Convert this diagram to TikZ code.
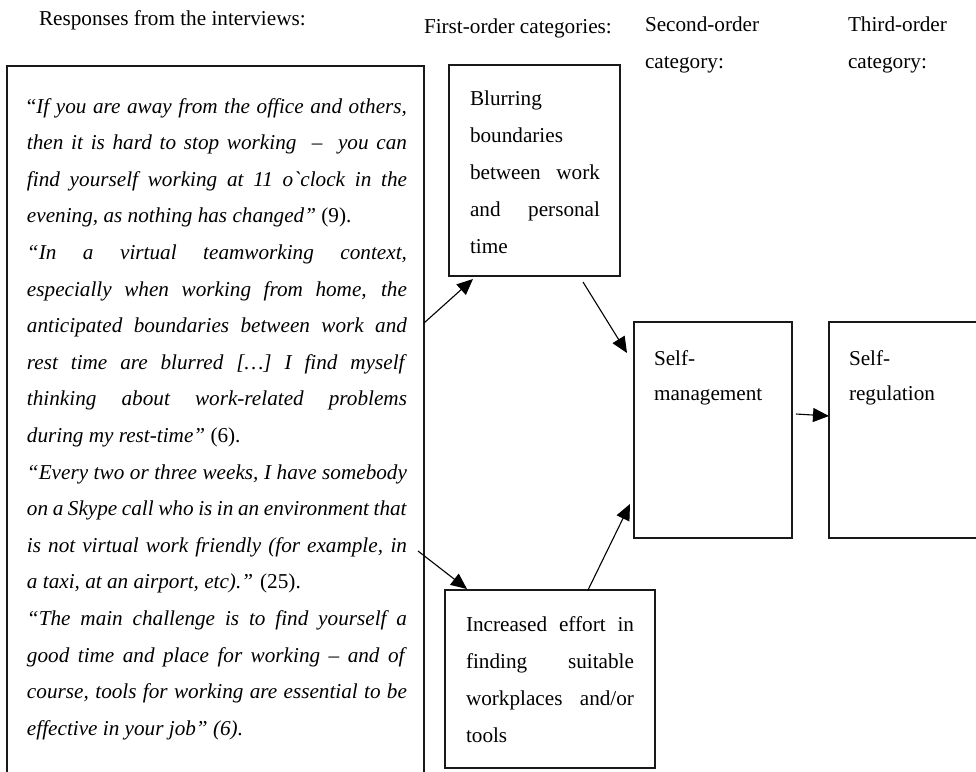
\documentclass[tikz,border=0pt]{standalone}
\usepackage{fontspec}
\setmainfont{Liberation Serif}[Ligatures=TeXOff]
\usetikzlibrary{arrows.meta,calc}
\newcommand\myjust[1]{\hbox to\hsize{#1}}
\newcommand\myleft[1]{\hbox to\hsize{#1\hfil}}
\begin{document}
\begin{tikzpicture}[x=1pt,y=-1pt,
  box/.style={draw=black!90, line width=1.3pt, inner sep=0pt, outer sep=0pt, anchor=north west},
  conn/.style={draw=black, line width=1.1pt, -{Triangle[length=16pt,width=14pt]}},
  txt/.style={inner sep=0pt, outer sep=0pt, anchor=base west, font=\fontsize{21.2}{36.6}\selectfont}]
\useasboundingbox (0,0) rectangle (976,771);
\clip (0,0) rectangle (976,771);
\fill[white] (0,0) rectangle (976,771);

% headings
\node[txt] (h0) at (39,25) {Responses from the interviews:};
\node[txt] (h1) at (424,33) {First-order categories:};
\node[txt] (h2) at (645,31) {\vtop{\baselineskip=37pt\lineskiplimit=-50pt\hbox{Second-order}\hbox{category:}}};
\node[txt] (h3) at (848,31) {\vtop{\baselineskip=37pt\lineskiplimit=-50pt\hbox{Third-order}\hbox{category:}}};

% boxes
\node[box, minimum width=417pt, minimum height=714pt] (quotes) at (7,66) {};
\node[box, minimum width=171pt, minimum height=211pt] (blur) at (449,65) {};
\node[box, minimum width=158pt, minimum height=216pt] (selfm) at (634,322) {};
\node[box, minimum width=150pt, minimum height=216pt] (selfr) at (829,322) {};
\node[box, minimum width=210pt, minimum height=178pt] (incr) at (445,590) {};

% texts in boxes
\node[txt] (qtext) at (27,113) {\vtop{\hsize=380pt\baselineskip=36.6pt\lineskiplimit=-50pt
\myjust{“\textit{If you are away from the office and others,}}
\myjust{\textit{then it is hard to stop working \ – \ you can}}
\myjust{\textit{find yourself working at 11 o`clock in the}}
\myleft{\textit{evening, as nothing has changed”} (9).}
\myjust{\textit{“In a virtual teamworking context,}}
\myjust{\textit{especially when working from home, the}}
\myjust{\textit{anticipated boundaries between work and}}
\myjust{\textit{rest time are blurred […] I find myself}}
\myjust{\textit{thinking about work-related problems}}
\myleft{\textit{during my rest-time”} (6).}
\myjust{\textit{“Every two or three weeks, I have somebody}}
\myjust{\textit{on a Skype call who is in an environment that}}
\myjust{\textit{is not virtual work friendly (for example, in}}
\myleft{\textit{a taxi, at an airport, etc).”} (25).}
\myjust{\textit{“The main challenge is to find yourself a}}
\myjust{\textit{good time and place for working – and of}}
\myjust{\textit{course, tools for working are essential to be}}
\myleft{\textit{effective in your job” (6).}}
}};
\node[txt] (blurtext) at (470,105) {\vtop{\hsize=130pt\baselineskip=37pt\lineskiplimit=-50pt
\myleft{Blurring}
\myleft{boundaries}
\myjust{between work}
\myjust{and personal}
\myleft{time}}};
\node[txt] (selfmtext) at (654,365) {\vtop{\baselineskip=35pt\lineskiplimit=-50pt
\hbox{Self-}\hbox{management}}};
\node[txt] (selfrtext) at (849,365) {\vtop{\baselineskip=35pt\lineskiplimit=-50pt
\hbox{Self-}\hbox{regulation}}};
\node[txt] (incrtext) at (466,631) {\vtop{\hsize=168pt\baselineskip=37pt\lineskiplimit=-50pt
\myjust{Increased effort in}
\myjust{finding suitable}
\myjust{workplaces and/or}
\myleft{tools}}};

% connectors
\coordinate (c1s) at ($(quotes.north east)+(0,257)$);
\coordinate (c1e) at ($(blur.south west)+(24,3)$);
\coordinate (c2s) at ($(blur.south west)+(134,6)$);
\coordinate (c2e) at ($(selfm.north west)+(-7,31)$);
\coordinate (c3s) at ($(quotes.north east)+(-6,485)$);
\coordinate (c3e) at ($(incr.north west)+(22,-1)$);
\coordinate (c4s) at ($(incr.north west)+(143,0)$);
\coordinate (c4e) at ($(selfm.north west)+(-4,182)$);
\coordinate (c5s) at ($(selfm.north east)+(4,92)$);
\coordinate (c5e) at ($(selfr.north west)+(0,94)$);
\draw[conn] (c1s) -- (c1e);
\draw[conn] (c2s) -- (c2e);
\draw[conn] (c3s) -- (c3e);
\draw[conn] (c4s) -- (c4e);
\draw[conn] (c5s) -- (c5e);
\end{tikzpicture}
\end{document}
